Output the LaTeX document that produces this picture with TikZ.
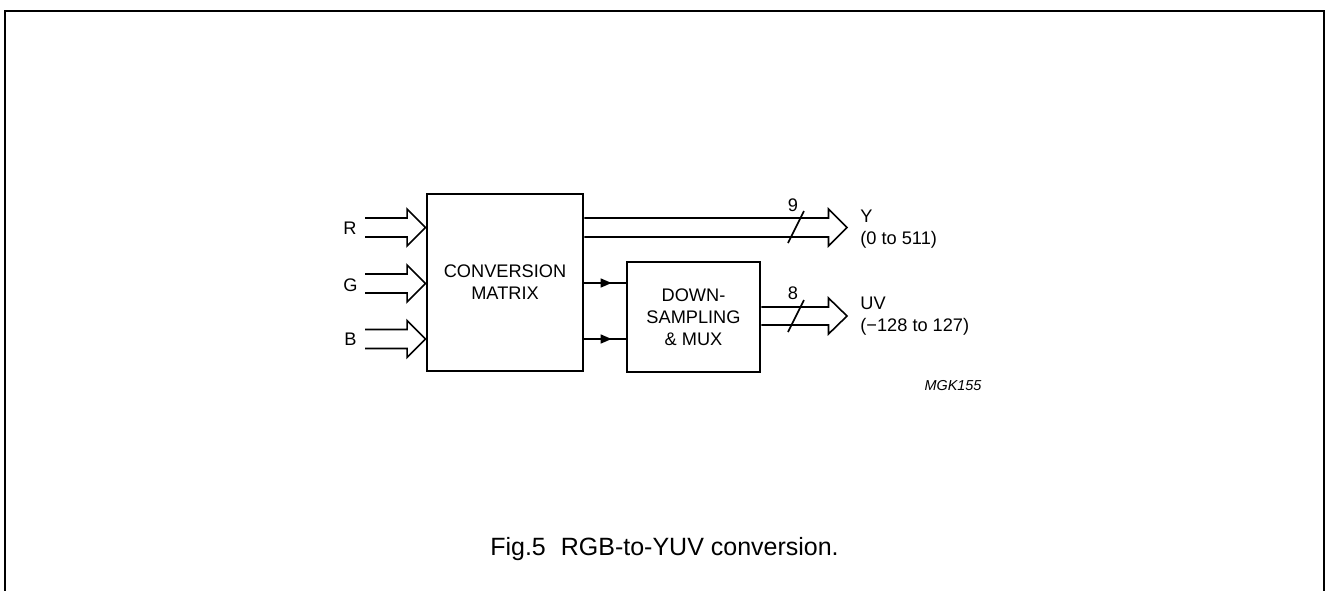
\documentclass[tikz,border=0pt]{standalone}
\usepackage{fontspec}
\setmainfont{Liberation Sans}
\usetikzlibrary{calc,arrows.meta,decorations.markings}
\tikzset{
  blk/.style={draw,line width=1.4pt,rectangle,inner sep=0pt,align=center,font=\fontsize{9.1}{11}\selectfont},
  bus/.style={line width=0.8pt,line join=miter},
  lbl/.style={inner sep=0pt,font=\fontsize{9.1}{11}\selectfont},
  sig/.style={line width=0.8pt,postaction={decorate},decoration={markings,mark=at position 0.66 with {\arrow{Triangle[length=5.5pt,width=4.5pt]}}}},
}
\newcommand\hbus[4]{%
  \draw[bus] ($(#1)+(0,-#3)$) -- ($(#2)+(-18.5,-#3)$) -- ($(#2)+(-18.5,-#4)$) -- (#2)
    -- ($(#2)+(-18.5,#4)$) -- ($(#2)+(-18.5,#3)$) -- ($(#1)+(0,#3)$);}
\begin{document}
\begin{tikzpicture}[x=0.5pt,y=-0.5pt]
\useasboundingbox (0,0) rectangle (1326,590);
% frame
\draw[line width=1pt] (5,592) -- (5,11) -- (1324,11) -- (1324,592);
% blocks
\node[blk,minimum width=78pt,minimum height=88.5pt] (M) at (505,282.5) {CONVERSION\\MATRIX};
\node[blk,minimum width=66.5pt,minimum height=55pt] (D) at (693.5,317) {DOWN-\\SAMPLING\\\& MUX};
% inputs
\coordinate (rin) at (365,227.5);
\coordinate (gin) at (365,283.5);
\coordinate (bin) at (365,339);
\coordinate (rt) at (M.west|-rin);
\coordinate (gt) at (M.west|-gin);
\coordinate (bt) at (M.west|-bin);
\hbus{rin}{rt}{9.5}{18.5}
\hbus{gin}{gt}{9.5}{18.5}
\hbus{bin}{bt}{9.5}{18.5}
\node[lbl,anchor=east] (R) at (357,228) {R};
\node[lbl,anchor=east] (G) at (358,285) {G};
\node[lbl,anchor=east] (B) at (357,339.5) {B};
% Y output
\coordinate (ytip) at (847,227.5);
\coordinate (ys) at (M.east|-ytip);
\hbus{ys}{ytip}{9.5}{18.5}
\draw[bus] (788,243) coordinate (ysl1) -- (804,211) coordinate (ysl2);
\node[lbl] (n9) at (793,205) {9};
\node[lbl,anchor=west,align=left] (Y) at (860,229) {Y\\(0 to 511)};
% internal signals
\coordinate (a1) at (600,283);
\coordinate (a2) at (600,339);
\draw[sig] (M.east|-a1) -- (D.west|-a1);
\draw[sig] (M.east|-a2) -- (D.west|-a2);
% UV output
\coordinate (uvtip) at (847,316);
\coordinate (uvs) at (D.east|-uvtip);
\hbus{uvs}{uvtip}{9}{18}
\draw[bus] (788,332) coordinate (usl1) -- (804,300) coordinate (usl2);
\node[lbl] (n8) at (793,293) {8};
\node[lbl,anchor=west,align=left] (UV) at (860,316.5) {UV\\(−128 to 127)};
% code
\node[inner sep=0pt,font=\fontsize{7.2}{8}\selectfont\itshape] (code) at (953,386) {MGK155};
% caption
\node[inner sep=0pt,font=\fontsize{12.5}{14}\selectfont] (cap) at (664.5,549) {Fig.5\hspace{0.6em}RGB-to-YUV conversion.};
\end{tikzpicture}
\end{document}
